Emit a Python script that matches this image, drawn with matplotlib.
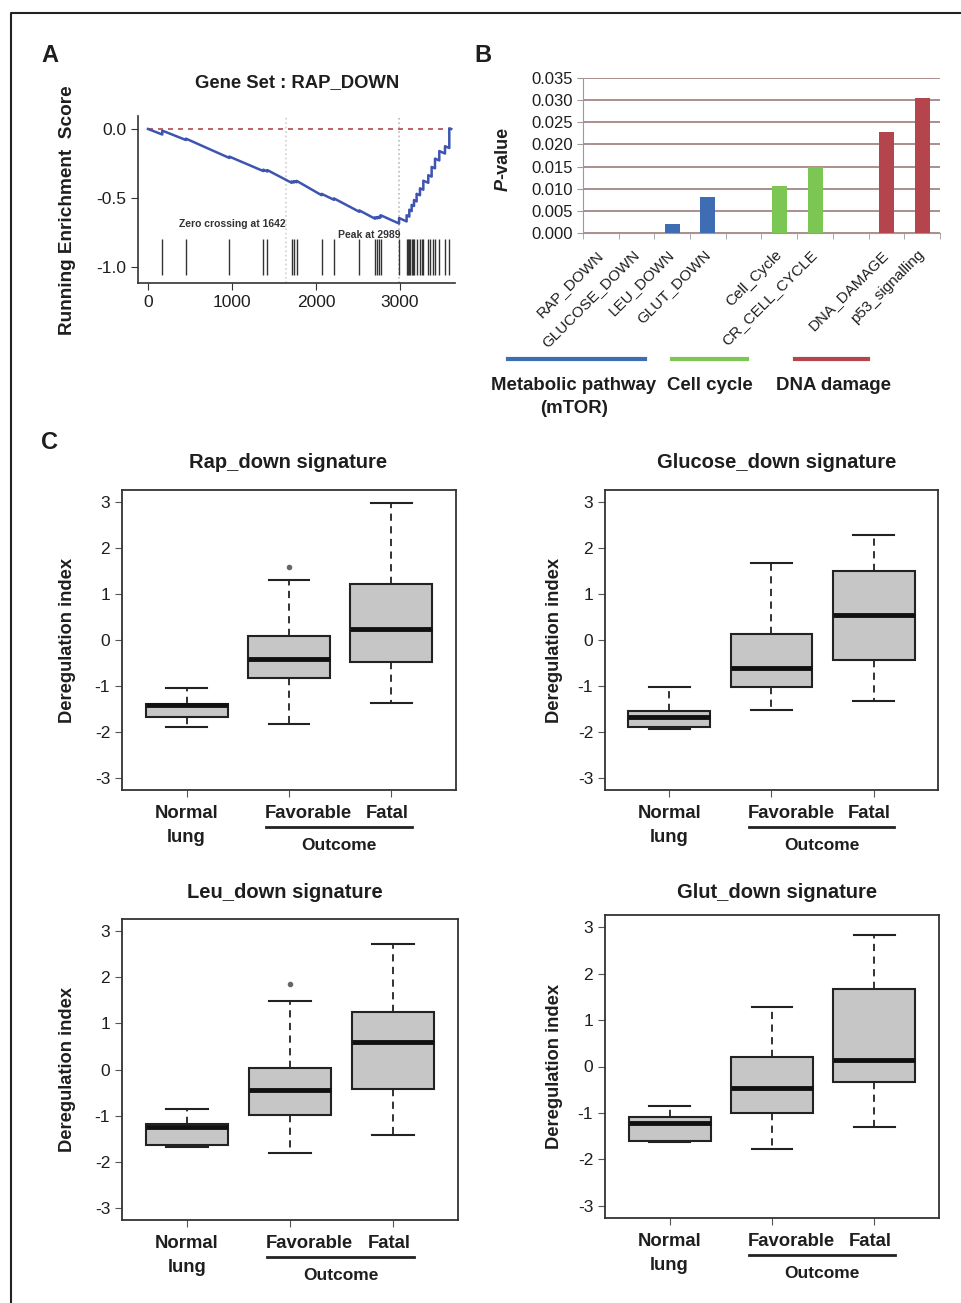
import numpy as np
import matplotlib
matplotlib.use("Agg")
import matplotlib.pyplot as plt
from matplotlib.lines import Line2D

# ---------------- data ----------------
# Panel A: running enrichment score (gene rank, score)
es_rank = [0, 170, 170, 452, 452, 968, 968, 1373, 1373, 1421, 1421, 1710, 1710,
           1738, 1738, 1770, 1770, 2067, 2067, 2214, 2214, 2516, 2516, 2702, 2702,
           2730, 2730, 2754, 2754, 2770, 2770, 2989, 2989, 3079, 3079, 3111, 3111,
           3139, 3139, 3167, 3167, 3198, 3198, 3238, 3238, 3278, 3278, 3337, 3337,
           3377, 3377, 3417, 3417, 3468, 3468, 3536, 3536, 3587, 3587, 3610]
es_score = [0.0, -0.040, -0.012, -0.080, -0.070, -0.210, -0.200, -0.305, -0.295,
            -0.308, -0.298, -0.390, -0.380, -0.388, -0.378, -0.386, -0.376, -0.480,
            -0.470, -0.513, -0.503, -0.600, -0.590, -0.650, -0.640, -0.648, -0.638,
            -0.645, -0.635, -0.640, -0.625, -0.685, -0.645, -0.670, -0.625, -0.635,
            -0.585, -0.595, -0.550, -0.558, -0.515, -0.525, -0.470, -0.480, -0.430,
            -0.440, -0.375, -0.390, -0.335, -0.345, -0.275, -0.285, -0.215, -0.228,
            -0.160, -0.178, -0.125, -0.138, 0.005, 0.0]
hits = [170, 452, 968, 1373, 1421, 1710, 1738, 1770, 2067, 2214, 2516, 2702, 2730,
        2754, 2770, 2989, 3079, 3095, 3111, 3125, 3139, 3153, 3167, 3198, 3238,
        3258, 3278, 3337, 3361, 3393, 3417, 3468, 3536, 3587]
zero_cross = 1642
peak = 2989

# Panel B: P-values of gene sets
categories = ["RAP_DOWN", "GLUCOSE_DOWN", "LEU_DOWN", "GLUT_DOWN", "",
              "Cell_Cycle", "CR_CELL_CYCLE", "", "DNA_DAMAGE", "p53_signalling"]
pvalues = [0.0, 0.0, 0.0020, 0.0082, 0.0, 0.0107, 0.0148, 0.0, 0.0228, 0.0305]
groups = ["met", "met", "met", "met", "", "cc", "cc", "", "dna", "dna"]
group_names = ["Metabolic pathway\n(mTOR)", "Cell cycle", "DNA damage"]

# Panel C: box-plot statistics, groups = Normal lung, Favorable, Fatal
box_groups = ["Normal\nlung", "Favorable", "Fatal"]
rap_med = [-1.42, -0.42, 0.24]
rap_q1 = [-1.68, -0.82, -0.48]
rap_q3 = [-1.40, 0.09, 1.21]
rap_lo = [-1.89, -1.82, -1.36]
rap_hi = [-1.05, 1.30, 2.98]
rap_out = [[], [1.58], []]

glc_med = [-1.68, -0.61, 0.54]
glc_q1 = [-1.88, -1.03, -0.43]
glc_q3 = [-1.54, 0.12, 1.50]
glc_lo = [-1.94, -1.53, -1.32]
glc_hi = [-1.03, 1.68, 2.29]
glc_out = [[], [], []]

leu_med = [-1.25, -0.44, 0.59]
leu_q1 = [-1.63, -0.98, -0.42]
leu_q3 = [-1.18, 0.04, 1.24]
leu_lo = [-1.68, -1.81, -1.41]
leu_hi = [-0.86, 1.49, 2.71]
leu_out = [[], [1.86], []]

glut_med = [-1.21, -0.47, 0.15]
glut_q1 = [-1.61, -1.00, -0.34]
glut_q3 = [-1.08, 0.20, 1.67]
glut_lo = [-1.63, -1.77, -1.31]
glut_hi = [-0.84, 1.28, 2.83]
glut_out = [[], [], []]

# ---------------- style ----------------
W, H = 962, 1303
plt.rcParams['font.family'] = ['Liberation Sans', 'DejaVu Sans']
plt.rcParams['axes.unicode_minus'] = False
DARK = '#333333'
TXT = '#1e1e1e'
BLUE, GREEN, RED = '#3f6db3', '#7cc753', '#b5454d'
gcolor = {"met": BLUE, "cc": GREEN, "dna": RED, "": BLUE}

fig = plt.figure(figsize=(W / 100, H / 100), dpi=100)


def rect(x0, y0, x1, y1):
    return [x0 / W, 1 - y1 / H, (x1 - x0) / W, (y1 - y0) / H]


def ftext(x, y, s, **kw):
    kw.setdefault('ha', 'center')
    kw.setdefault('va', 'center')
    kw.setdefault('color', TXT)
    return fig.text(x / W, 1 - y / H, s, **kw)


# border
fig.add_artist(Line2D([11 / W, 11 / W, 1.0], [0.0, 1 - 13 / H, 1 - 13 / H],
                      color='#222222', lw=1.5))

# panel letters
ftext(50, 55, "A", fontsize=17, weight='bold')
ftext(483, 55, "B", fontsize=17, weight='bold')
ftext(50, 443, "C", fontsize=17, weight='bold')

# ---------------- Panel A ----------------
axA = fig.add_axes(rect(138, 116, 455, 283))
axA.set_xlim(-119, 3655)
axA.set_ylim(-1.116, 0.094)
for s in ['top', 'right']:
    axA.spines[s].set_visible(False)
for s in ['left', 'bottom']:
    axA.spines[s].set_color(DARK)
    axA.spines[s].set_linewidth(1.2)
axA.axvline(zero_cross, color='#cfcfcf', ls=':', lw=1.2)
axA.axvline(peak, color='#bbbbbb', ls=':', lw=1.2)
axA.plot([0, 3620], [0, 0], color='#b04a4a', ls=(0, (3, 3)), lw=1.2)
axA.vlines(hits, -1.06, -0.80, color='#333333', lw=1.0)
axA.plot(es_rank, es_score, color='#3d55b0', lw=1.8)
axA.text(1000, -0.69, "Zero crossing at %d" % zero_cross, fontsize=7.5,
         weight='bold', ha='center', va='center', color='#333333')
axA.text(2640, -0.765, "Peak at %d" % peak, fontsize=7.5, weight='bold',
         ha='center', va='center', color='#333333')
axA.set_xticks([0, 1000, 2000, 3000])
axA.set_yticks([0.0, -0.5, -1.0])
axA.set_yticklabels(["0.0", "-0.5", "-1.0"])
axA.tick_params(labelsize=12.5, length=5, colors=DARK, labelcolor=TXT)
ftext(297, 83, "Gene Set : RAP_DOWN", fontsize=13.3, weight='bold')
ftext(67, 210, "Running Enrichment  Score", fontsize=13.7, weight='bold', rotation=90)

# ---------------- Panel B ----------------
axB = fig.add_axes(rect(583, 78, 940, 233))
xs = np.arange(len(categories))
axB.bar(xs, pvalues, width=0.42, color=[gcolor[g] for g in groups], zorder=3)
axB.set_xlim(-0.5, len(categories) - 0.5)
axB.set_ylim(0, 0.035)
yt = np.arange(0, 0.0351, 0.005)
axB.set_yticks(yt)
axB.set_yticklabels(["%.3f" % v for v in yt])
axB.yaxis.grid(True, color='#a58585', lw=1.3)
axB.set_axisbelow(True)
for s in ['top', 'right']:
    axB.spines[s].set_visible(False)
for s in ['left', 'bottom']:
    axB.spines[s].set_color('#9a9a9a')
axB.set_xticks(xs)
axB.set_xticklabels(categories, rotation=45, ha='right', va='center',
                    rotation_mode='anchor', fontsize=11)
axB.set_xticks(np.arange(-0.5, len(categories)), minor=True)
axB.tick_params(axis='x', which='major', length=0, pad=14, labelcolor=TXT)
axB.tick_params(axis='x', which='minor', length=4, color='#9a9a9a')
axB.tick_params(axis='y', labelsize=12, length=4, color='#9a9a9a', labelcolor=TXT)
# P-value label
ftext(503, 191, "P", fontsize=13, weight='bold', style='italic', rotation=90, va='bottom')
ftext(503, 179, "-value", fontsize=13, weight='bold', rotation=90, va='bottom')
# group bars & names
for (x0, x1, c) in [(508, 645, BLUE), (672, 747, GREEN), (795, 868, RED)]:
    fig.add_artist(Line2D([x0 / W, x1 / W], [1 - 359 / H] * 2, color=c, lw=3))
ftext(574, 386, group_names[0].split("\n")[0], fontsize=13.4, weight='bold')
ftext(574, 409, group_names[0].split("\n")[1], fontsize=13.4, weight='bold')
ftext(710, 386, group_names[1], fontsize=13.4, weight='bold')
ftext(834, 386, group_names[2], fontsize=13.4, weight='bold')


# ---------------- Panel C ----------------
def draw_box(rpx, title, tx, ty, ylx, med, q1, q3, lo, hi, out):
    ax = fig.add_axes(rect(*rpx))
    stats = [dict(med=med[i], q1=q1[i], q3=q3[i], whislo=lo[i], whishi=hi[i],
                  fliers=out[i]) for i in range(3)]
    ax.bxp(stats, positions=[1, 2, 3], widths=0.8, patch_artist=True,
           showfliers=True, capwidths=0.4,
           boxprops=dict(facecolor='#c6c6c6', edgecolor='#222222', lw=1.5),
           medianprops=dict(color='#111111', lw=3.5),
           whiskerprops=dict(color='#222222', lw=1.3, ls=(0, (4, 3))),
           capprops=dict(color='#222222', lw=1.5),
           flierprops=dict(marker='o', markersize=3, markerfacecolor='#666666',
                           markeredgecolor='#666666'))
    ax.set_xlim(0.37, 3.63)
    ax.set_ylim(-3.26, 3.26)
    ax.set_yticks([-3, -2, -1, 0, 1, 2, 3])
    ax.set_xticks([1, 2, 3])
    ax.set_xticklabels(["", "", ""])
    ax.tick_params(labelsize=12.5, length=5, colors='#555555', labelcolor=TXT)
    for s in ax.spines.values():
        s.set_color(DARK)
        s.set_linewidth(1.3)
    hpx = rpx[3] - rpx[1]
    tr = ax.get_xaxis_transform()
    kw = dict(transform=tr, ha='center', va='center', fontsize=13.3,
              weight='bold', color=TXT)
    ax.text(1, -23 / hpx, box_groups[0].split("\n")[0], **kw)
    ax.text(1, -47 / hpx, box_groups[0].split("\n")[1], **kw)
    ax.text(2.19, -23 / hpx, box_groups[1], **kw)
    ax.text(2.96, -23 / hpx, box_groups[2], **kw)
    ax.plot([1.78, 3.2], [-37 / hpx] * 2, transform=tr, color='#222222', lw=2,
            clip_on=False)
    ax.text(2.49, -55 / hpx, "Outcome", transform=tr, ha='center', va='center',
            fontsize=12.5, weight='bold', color=TXT)
    ftext(tx, ty, title, fontsize=14.5, weight='bold')
    ftext(ylx, (rpx[1] + rpx[3]) / 2, "Deregulation index", fontsize=13.2,
          weight='bold', rotation=90)
    return ax


draw_box((122, 490, 456, 790), "Rap_down signature", 288, 462, 67,
         rap_med, rap_q1, rap_q3, rap_lo, rap_hi, rap_out)
draw_box((605, 490, 938, 790), "Glucose_down signature", 777, 462, 555,
         glc_med, glc_q1, glc_q3, glc_lo, glc_hi, glc_out)
draw_box((122, 919, 458, 1220), "Leu_down signature", 285, 892, 67,
         leu_med, leu_q1, leu_q3, leu_lo, leu_hi, leu_out)
draw_box((605, 915, 939, 1218), "Glut_down signature", 777, 892, 555,
         glut_med, glut_q1, glut_q3, glut_lo, glut_hi, glut_out)

fig.savefig("out.png", dpi=100)
